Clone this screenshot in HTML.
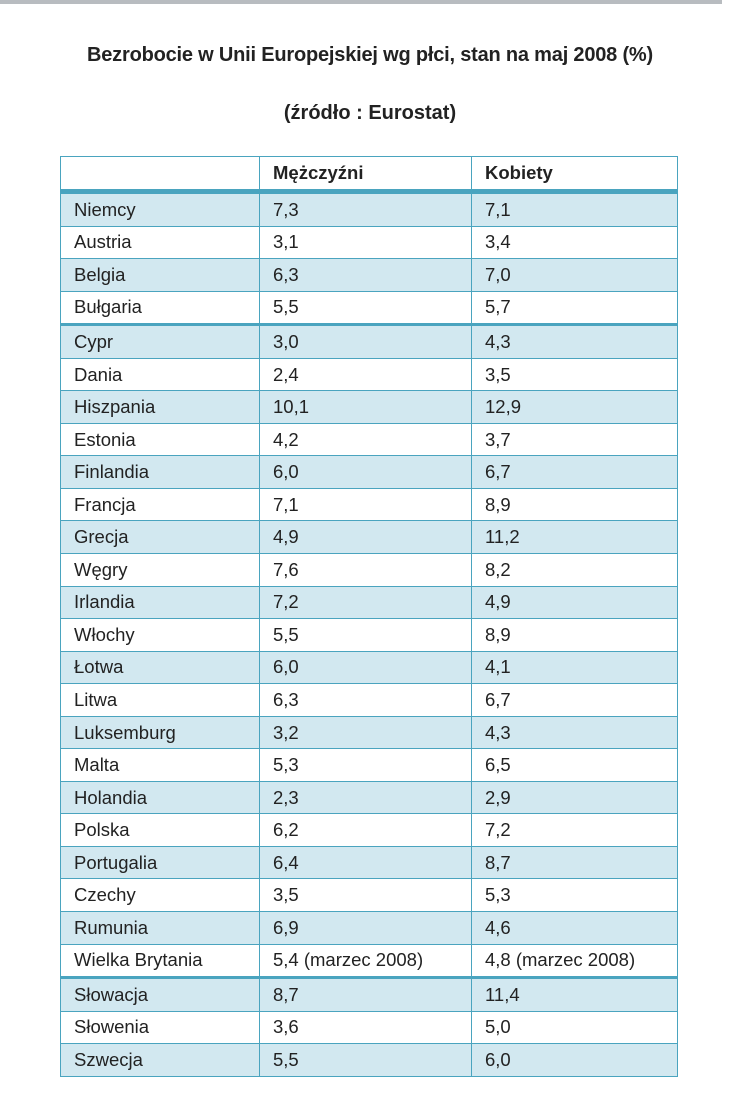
<!DOCTYPE html>
<html><head><meta charset="utf-8"><style>
body{margin:0;width:740px;height:1119px;background:#fff;position:relative;overflow:hidden;font-family:"Liberation Sans",sans-serif;color:#222}
.topline{position:absolute;left:0;top:0;width:722px;height:4px;background:#b8bcc0}
.t1{position:absolute;top:44px;left:0;width:740px;text-align:center;font-size:20px;font-weight:bold;letter-spacing:-0.2px}
.t2{position:absolute;top:102px;left:0;width:740px;text-align:center;font-size:20px;font-weight:bold}
table{position:absolute;left:60px;top:156px;border-collapse:collapse;width:618px}
td{border:1.5px solid #4aa4bf;height:31.55px;padding:0 0 0 13px;font-size:18.5px;vertical-align:middle}
tr:nth-child(even) td{background:#d2e8f0}
tr.h td{height:32px;font-weight:bold;border-bottom:5px solid #4aa4bf}
tr.th td{border-top:3px solid #4aa4bf}
td:nth-child(1){width:185px}td:nth-child(2){width:198px}
</style></head><body>
<div class="topline"></div>
<div class="t1">Bezrobocie w Unii Europejskiej wg płci, stan na maj 2008 (%)</div>
<div class="t2">(źródło : Eurostat)</div>
<table>
<tr class="h"><td></td><td>Mężczyźni</td><td>Kobiety</td></tr>
<tr><td>Niemcy</td><td>7,3</td><td>7,1</td></tr>
<tr><td>Austria</td><td>3,1</td><td>3,4</td></tr>
<tr><td>Belgia</td><td>6,3</td><td>7,0</td></tr>
<tr><td>Bułgaria</td><td>5,5</td><td>5,7</td></tr>
<tr class="th"><td>Cypr</td><td>3,0</td><td>4,3</td></tr>
<tr><td>Dania</td><td>2,4</td><td>3,5</td></tr>
<tr><td>Hiszpania</td><td>10,1</td><td>12,9</td></tr>
<tr><td>Estonia</td><td>4,2</td><td>3,7</td></tr>
<tr><td>Finlandia</td><td>6,0</td><td>6,7</td></tr>
<tr><td>Francja</td><td>7,1</td><td>8,9</td></tr>
<tr><td>Grecja</td><td>4,9</td><td>11,2</td></tr>
<tr><td>Węgry</td><td>7,6</td><td>8,2</td></tr>
<tr><td>Irlandia</td><td>7,2</td><td>4,9</td></tr>
<tr><td>Włochy</td><td>5,5</td><td>8,9</td></tr>
<tr><td>Łotwa</td><td>6,0</td><td>4,1</td></tr>
<tr><td>Litwa</td><td>6,3</td><td>6,7</td></tr>
<tr><td>Luksemburg</td><td>3,2</td><td>4,3</td></tr>
<tr><td>Malta</td><td>5,3</td><td>6,5</td></tr>
<tr><td>Holandia</td><td>2,3</td><td>2,9</td></tr>
<tr><td>Polska</td><td>6,2</td><td>7,2</td></tr>
<tr><td>Portugalia</td><td>6,4</td><td>8,7</td></tr>
<tr><td>Czechy</td><td>3,5</td><td>5,3</td></tr>
<tr><td>Rumunia</td><td>6,9</td><td>4,6</td></tr>
<tr><td>Wielka Brytania</td><td>5,4 (marzec 2008)</td><td>4,8 (marzec 2008)</td></tr>
<tr class="th"><td>Słowacja</td><td>8,7</td><td>11,4</td></tr>
<tr><td>Słowenia</td><td>3,6</td><td>5,0</td></tr>
<tr><td>Szwecja</td><td>5,5</td><td>6,0</td></tr>
</table>
</body></html>
